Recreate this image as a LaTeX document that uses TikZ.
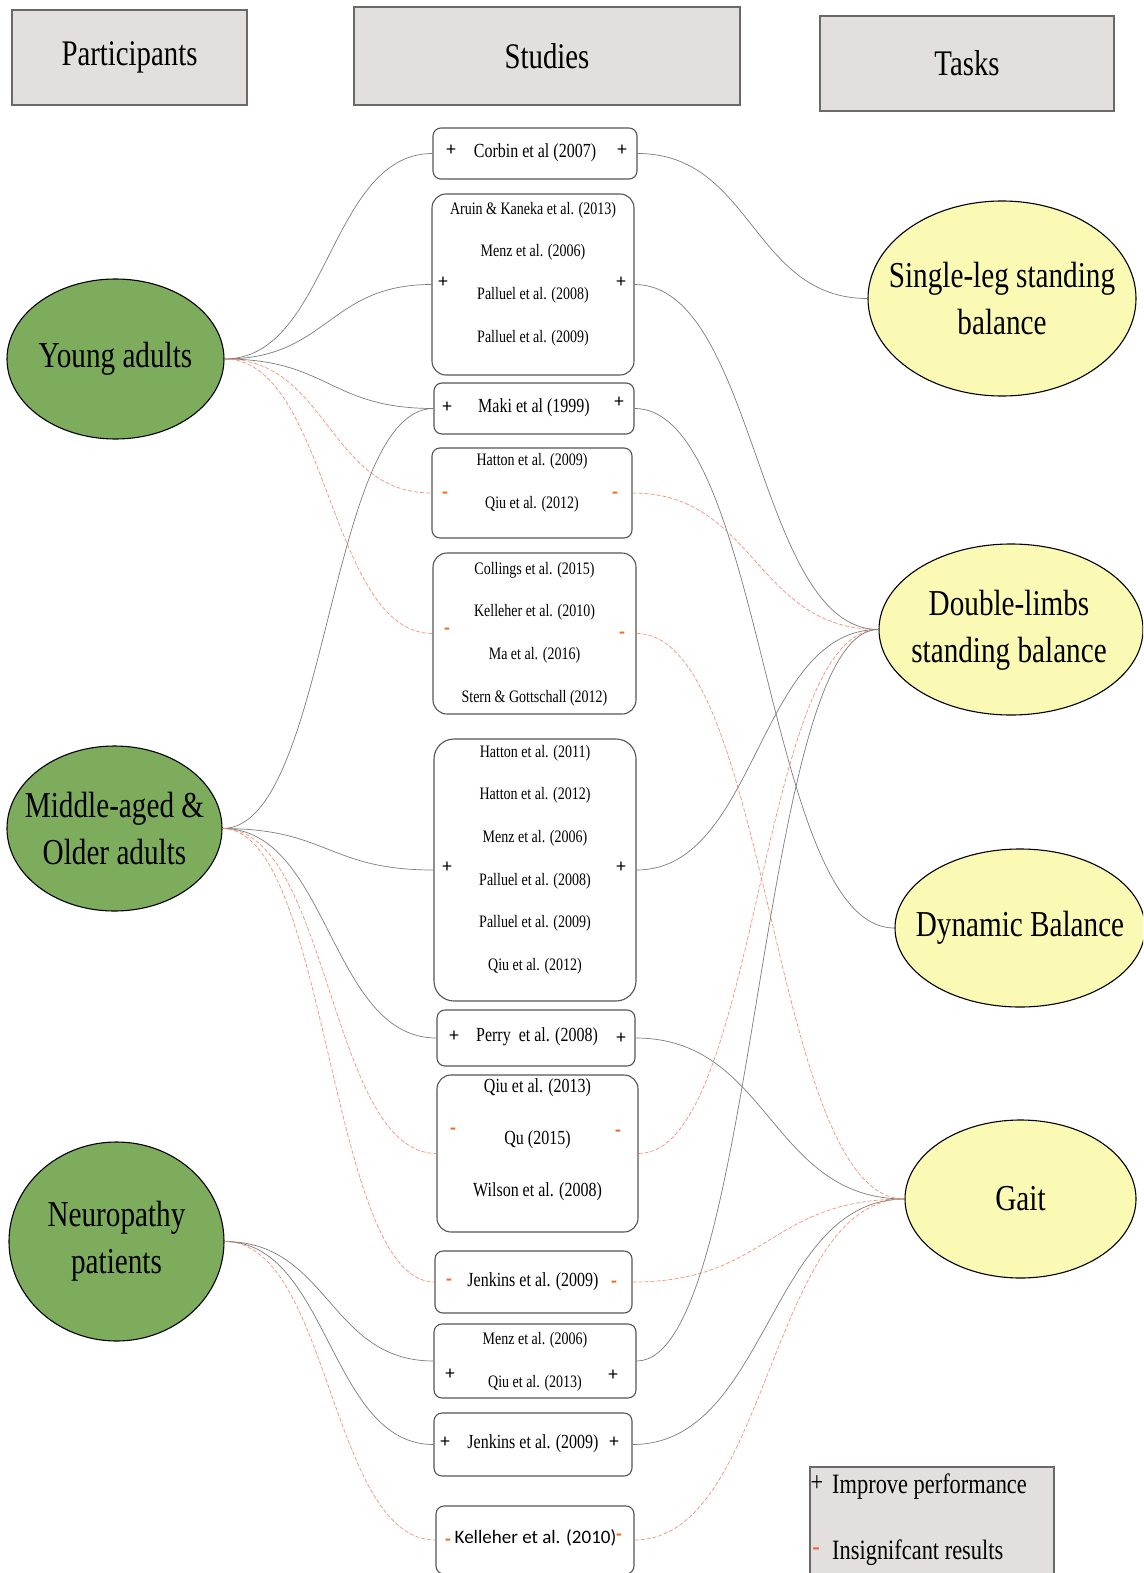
\documentclass[tikz,border=0pt]{standalone}
\usepackage{fontspec}
\setmainfont{Liberation Serif}[FakeStretch=0.8]
\newfontfamily\signfont{Carlito}
\usetikzlibrary{shapes.geometric,calc}

\definecolor{hdrfill}{RGB}{227,223,223}
\definecolor{hdrline}{RGB}{105,105,105}
\definecolor{partgreen}{RGB}{126,172,93}
\definecolor{taskyellow}{RGB}{250,250,180}
\definecolor{boxline}{RGB}{85,85,85}
\definecolor{linkgray}{RGB}{125,125,125}
\definecolor{linkorange}{RGB}{248,145,115}
\definecolor{minusorange}{RGB}{242,105,35}

\tikzset{
  header/.style={draw=hdrline, fill=hdrfill, line width=1.2pt, inner sep=0pt,
    font=\fontsize{36}{40}\selectfont},
  participant/.style={ellipse, draw=black, fill=partgreen, line width=1.1pt,
    inner sep=0pt},
  task/.style={ellipse, draw=black, fill=taskyellow, line width=1.1pt,
    inner sep=0pt},
  bigtext/.style={inner sep=0pt, align=center, font=\fontsize{36.5}{47}\selectfont},
  study/.style={draw=boxline, fill=white, rounded corners=8pt, line width=1.1pt,
    inner sep=0pt},
  bigstudy/.style={study, rounded corners=14pt},
  reflist/.style={align=center, inner sep=0pt, font=\fontsize{17.5}{42.6}\selectfont},
  refone/.style={inner sep=0pt, font=\fontsize{20}{24}\selectfont},
  plus/.style={inner sep=0pt, anchor=base, yshift=-6pt,
    font=\signfont\fontsize{19}{20}\selectfont},
  minus/.style={inner sep=0pt, anchor=base, yshift=-4.5pt, text=minusorange,
    font=\signfont\bfseries\fontsize{19}{20}\selectfont},
  legendtext/.style={inner sep=0pt, anchor=west, font=\fontsize{28}{32}\selectfont},
  link/.style={draw=linkgray, line width=0.7pt,
    to path={let \p1=(\tikztostart), \p2=(\tikztotarget) in
      .. controls ({(\x1+\x2)/2},\y1) and ({(\x1+\x2)/2},\y2) .. (\tikztotarget)}},
  nolink/.style={link, draw=linkorange, dash pattern=on 4pt off 2pt},
}

\begin{document}
\begin{tikzpicture}[x=1pt, y=-1pt]
\useasboundingbox (0,0) rectangle (1143,1573);
\clip (0,0) rectangle (1143,1573);
\fill[white] (0,0) rectangle (1143,1573);

% column headers
\node[header, minimum width=235pt, minimum height=95pt] (hpart) at (129.5,57.5) {Participants};
\node[header, minimum width=386pt, minimum height=98pt] (hstud) at (547,56) {Studies};
\node[header, minimum width=294pt, minimum height=95pt] (htask) at (967,63.5) {Tasks};

% participant groups
\node[participant, minimum width=217pt, minimum height=160pt] (young) at (115.5,359) {};
\node[bigtext] (youngl) at (young.center) {Young adults};
\node[participant, minimum width=215pt, minimum height=165pt] (older) at (114.5,828.5) {};
\node[bigtext] (olderl) at (older.center) {Middle-aged \&\\Older adults};
\node[participant, minimum width=215pt, minimum height=199pt] (neuro) at (116.5,1241.5) {};
\node[bigtext] (neurol) at (neuro.center) {Neuropathy\\patients};

% tasks
\node[task, minimum width=268pt, minimum height=195pt] (single) at (1002,298.5) {};
\node[bigtext] (singlel) at (single.center) {Single-leg standing\\balance};
\node[task, minimum width=264pt, minimum height=171pt] (double) at (1011,629.5) {};
\node[bigtext] (doublel) at (1009,630) {Double-limbs\\standing balance};
\node[task, minimum width=250pt, minimum height=158pt] (dynamic) at (1020,928) {};
\node[bigtext] (dynamicl) at (dynamic.center) {Dynamic Balance};
\node[task, minimum width=231pt, minimum height=158pt] (gait) at (1020.5,1199) {};
\node[bigtext] (gaitl) at (gait.center) {Gait};

% studies
\node[study, minimum width=204pt, minimum height=51pt] (s1) at (535,153.5) {};
\node[refone] (t1) at (535,153) {Corbin et al (2007)};
\node[plus] (s1a) at (451,150) {+};
\node[plus] (s1b) at (622,150) {+};

\node[bigstudy, minimum width=202pt, minimum height=181pt] (s2) at (533,284.5) {};
\node[reflist] (t2) at (533,274) {Aruin \& Kaneka et al. (2013)\\Menz et al. (2006)\\Palluel et al. (2008)\\Palluel et al. (2009)};
\node[plus] (s2a) at (443,281) {+};
\node[plus] (s2b) at (621,281) {+};

\node[study, minimum width=200pt, minimum height=51pt] (s3) at (534,408.5) {};
\node[refone] (t3) at (534,408) {Maki et al (1999)};
\node[plus] (s3a) at (447,406) {+};
\node[plus] (s3b) at (619,401) {+};

\node[study, minimum width=200pt, minimum height=90pt] (s4) at (532,493) {};
\node[reflist] (t4) at (532,482.5) {Hatton et al. (2009)\\Qiu et al. (2012)};
\node[minus] (s4a) at (445,494) {-};
\node[minus] (s4b) at (615,494) {-};

\node[bigstudy, minimum width=203pt, minimum height=161pt] (s5) at (534.5,633.5) {};
\node[reflist] (t5) at (534.5,634) {Collings et al. (2015)\\Kelleher et al. (2010)\\Ma et al. (2016)\\Stern \& Gottschall (2012)};
\node[minus] (s5a) at (447,630) {-};
\node[minus] (s5b) at (622,634) {-};

\node[bigstudy, rounded corners=20pt, minimum width=202pt, minimum height=262pt] (s6) at (535,870) {};
\node[reflist] (t6) at (535,859.5) {Hatton et al. (2011)\\Hatton et al. (2012)\\Menz et al. (2006)\\Palluel et al. (2008)\\Palluel et al. (2009)\\Qiu et al. (2012)};
\node[plus] (s6a) at (447,866) {+};
\node[plus] (s6b) at (621,866) {+};

\node[study, minimum width=198pt, minimum height=56pt] (s7) at (536,1038) {};
\node[refone] (t7) at (537,1037) {Perry\ \ et al. (2008)};
\node[plus] (s7a) at (454,1035) {+};
\node[plus] (s7b) at (621,1037) {+};

\node[bigstudy, minimum width=201pt, minimum height=157pt] (s8) at (537.5,1153.5) {};
\node[reflist, font=\fontsize{20}{52}\selectfont] (t8) at (537.5,1140) {Qiu et al. (2013)\\Qu (2015)\\Wilson et al. (2008)};
\node[minus] (s8a) at (453,1130) {-};
\node[minus] (s8b) at (618,1132) {-};

\node[study, minimum width=197pt, minimum height=62pt] (s9) at (533.5,1282) {};
\node[refone] (t9) at (533,1282) {Jenkins et al. (2009)};
\node[minus] (s9a) at (449,1281) {-};
\node[minus] (s9b) at (614,1283) {-};

\node[study, minimum width=202pt, minimum height=74pt] (s10) at (535,1361) {};
\node[reflist] (t10) at (535,1361.5) {Menz et al. (2006)\\Qiu et al. (2013)};
\node[plus] (s10a) at (450,1373) {+};
\node[plus] (s10b) at (613,1374) {+};

\node[study, minimum width=198pt, minimum height=63pt] (s11) at (533,1444.5) {};
\node[refone] (t11) at (533,1444) {Jenkins et al. (2009)};
\node[plus] (s11a) at (445,1441) {+};
\node[plus] (s11b) at (614,1441) {+};

\node[study, minimum width=198pt, minimum height=68pt] (s12) at (535,1540) {};
\node[inner sep=0pt, font=\signfont\fontsize{19}{22}\selectfont] (t12) at (535.5,1538) {Kelleher et al. (2010)};
\node[minus] (s12a) at (448,1541) {-};
\node[minus] (s12b) at (619,1536) {-};

% participants to studies
\draw[link] (young.east) to (s1.west);
\draw[link] (young.east) to (s2.west);
\draw[link] (young.east) to (s3.west);
\draw[nolink] (young.east) to (s4.west);
\draw[nolink] (young.east) to (s5.west);

\draw[link] (older.east) to (s3.west);
\draw[link] (older.east) to (s6.west);
\draw[link] (older.east) to (s7.west);
\draw[nolink] (older.east) to (s8.west);
\draw[nolink] (older.east) to (s9.west);

\draw[link] (neuro.east) to (s10.west);
\draw[link] (neuro.east) to (s11.west);
\draw[nolink] (neuro.east) to (s12.west);

% studies to tasks
\draw[link] (s1.east) to (single.west);
\draw[link] (s2.east) to (double.west);
\draw[link] (s3.east) to (dynamic.west);
\draw[nolink] (s4.east) to (double.west);
\draw[nolink] (s5.east) to (gait.west);
\draw[link] (s6.east) to (double.west);
\draw[link] (s7.east) to (gait.west);
\draw[nolink] (s8.east) to (double.west);
\draw[nolink] (s9.east) to (gait.west);
\draw[link] (s10.east) to (double.west);
\draw[link] (s11.east) to (gait.west);
\draw[nolink] (s12.east) to (gait.west);

% legend
\node[draw=hdrline, fill=hdrfill, line width=1.2pt, inner sep=0pt,
      minimum width=244pt, minimum height=120pt] (legend) at (932,1527) {};
\node[inner sep=0pt, font=\fontsize{28}{32}\selectfont] (lplus) at (817,1484) {+};
\node[legendtext] (ltext1) at (832,1487) {Improve performance};
\node[inner sep=0pt, text=minusorange, font=\fontsize{28}{32}\selectfont] (lminus) at (816,1552) {-};
\node[legendtext] (ltext2) at (832,1553) {Insignifcant results};
\end{tikzpicture}
\end{document}
